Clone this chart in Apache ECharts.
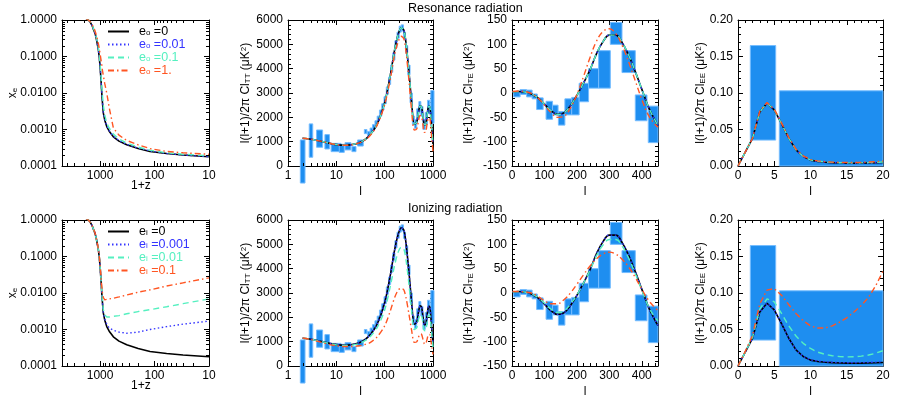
<!DOCTYPE html>
<html>
<head>
<meta charset="utf-8">
<script src="https://cdn.jsdelivr.net/npm/echarts@6/dist/echarts.min.js"></script>
<style>
  html, body { margin: 0; background: #fff; }
  #chart { width: 900px; height: 400px; }
</style>
</head>
<body>
<div id="chart"></div>
<script>
// ---- ionization fraction x_e against 1+z ----
const zGrid = [1800, 1640, 1500, 1400, 1300, 1235, 1150, 1073, 1030, 1000, 960, 931, 900, 870, 820, 754, 680, 570, 450, 324, 200, 121, 60, 30, 10];
const xeStd = [1.08, 1.0, 0.85, 0.7, 0.52, 0.43, 0.27, 0.15, 0.09, 0.053, 0.022, 0.01, 0.005, 0.0028, 0.0018, 0.0012, 0.0009, 0.00063, 0.00048, 0.00038, 0.0003, 0.00025, 0.00022, 0.0002, 0.00018];
const xeResBlue = [1.08, 1.0, 0.85, 0.7, 0.52, 0.43, 0.27, 0.15, 0.09, 0.054, 0.023, 0.0105, 0.0052, 0.0029, 0.0019, 0.00125, 0.00093, 0.00065, 0.0005, 0.00039, 0.00031, 0.00026, 0.00022, 0.0002, 0.00018];
const xeResCyan = [1.08, 1.0, 0.86, 0.72, 0.55, 0.46, 0.3, 0.17, 0.105, 0.065, 0.03, 0.015, 0.008, 0.0045, 0.0025, 0.0015, 0.0011, 0.00075, 0.00055, 0.00043, 0.00033, 0.00027, 0.00023, 0.00021, 0.00019];
const xeResRed = [1.08, 1.0, 0.88, 0.75, 0.6, 0.5, 0.35, 0.22, 0.16, 0.12, 0.08, 0.06, 0.04, 0.03, 0.018, 0.01, 0.004, 0.0011, 0.0007, 0.0005, 0.00038, 0.0003, 0.00025, 0.00023, 0.00021];
const xeIonBlue = [1.08, 1.0, 0.85, 0.7, 0.52, 0.43, 0.27, 0.15, 0.09, 0.053, 0.022, 0.01, 0.005, 0.0029, 0.0019, 0.0014, 0.0011, 0.00095, 0.00085, 0.00079, 0.00085, 0.001, 0.0012, 0.0014, 0.0017];
const xeIonCyan = [1.08, 1.0, 0.85, 0.7, 0.52, 0.43, 0.27, 0.15, 0.09, 0.054, 0.023, 0.011, 0.0055, 0.0035, 0.0025, 0.0022, 0.0022, 0.0023, 0.0024, 0.0027, 0.0031, 0.0035, 0.0042, 0.0051, 0.0069];
const xeIonRed = [1.08, 1.0, 0.85, 0.7, 0.53, 0.44, 0.28, 0.16, 0.095, 0.058, 0.026, 0.015, 0.0095, 0.0075, 0.0065, 0.0066, 0.0069, 0.0072, 0.0078, 0.0088, 0.0105, 0.0122, 0.0155, 0.019, 0.026];

// ---- TT spectrum ----
const ttL = [2, 3, 4, 5, 7, 10, 15, 20, 30, 40, 50, 70, 100, 130, 160, 190, 220, 250, 280, 320, 360, 410, 460, 500, 540, 580, 620, 660, 700, 750, 800, 850, 900, 950, 1000];
const ttStd = [1140, 1100, 1050, 1010, 940, 880, 850, 870, 960, 1100, 1280, 1720, 2600, 3700, 4750, 5400, 5680, 5580, 4950, 3800, 2650, 1720, 1800, 2200, 2470, 2420, 2050, 1700, 1700, 2050, 2420, 2450, 2050, 1450, 900];
const ttResRed = [1140, 1100, 1050, 1010, 940, 880, 850, 865, 950, 1080, 1250, 1680, 2520, 3550, 4550, 5100, 5330, 5220, 4600, 3450, 2300, 1480, 1520, 1850, 2080, 2030, 1680, 1380, 1380, 1700, 1970, 1980, 1600, 1050, 600];
const ttIonCyan = [1140, 1100, 1040, 1000, 930, 870, 840, 850, 930, 1050, 1200, 1580, 2300, 3250, 4120, 4680, 4880, 4800, 4280, 3300, 2300, 1500, 1570, 1900, 2120, 2080, 1760, 1460, 1450, 1750, 2080, 2100, 1760, 1250, 780];
const ttIonRed = [1150, 1090, 1020, 970, 890, 830, 800, 800, 830, 890, 960, 1200, 1650, 2250, 2800, 3120, 3200, 3120, 2750, 2100, 1480, 970, 990, 1180, 1320, 1300, 1100, 920, 900, 1080, 1280, 1300, 1080, 760, 480];
// data bins: [l low, l high, value low, value high]
const ttBins = [
  [1.8, 2.25, -700, 1070], [2.75, 3.25, 360, 1730], [3.9, 5.2, 770, 1480], [5.8, 7.2, 700, 1290],
  [7.8, 12.5, 590, 930], [11.5, 14.6, 560, 890], [15.1, 20, 660, 960], [21, 25.5, 590, 800],
  [27.5, 36, 820, 1070], [38, 43, 1330, 1500], [44, 50, 1250, 1420], [50, 56, 1380, 1560],
  [56, 63, 1500, 1700], [63, 70, 1680, 1860], [70, 78, 1850, 2050], [78, 87, 2050, 2300],
  [87, 97, 2300, 2560], [97, 108, 2560, 2850], [108, 120, 2950, 3250], [120, 133, 3350, 3650],
  [133, 147, 3850, 4150], [147, 163, 4350, 4650], [163, 180, 4850, 5150], [180, 200, 5250, 5500],
  [200, 220, 5500, 5750], [220, 245, 5550, 5800], [245, 270, 5250, 5500], [270, 300, 4650, 4950],
  [300, 335, 3750, 4150], [335, 375, 2600, 3000], [375, 415, 1700, 2050], [415, 460, 1550, 1900],
  [460, 510, 1950, 2350], [510, 560, 2250, 2650], [560, 620, 2050, 2450], [620, 690, 1500, 1900],
  [690, 770, 1700, 2200], [770, 860, 2150, 2700], [900, 1050, 1750, 3100]
];

// ---- TE spectrum ----
const teL = [2, 20, 40, 60, 80, 100, 120, 140, 160, 180, 200, 220, 240, 260, 280, 300, 320, 340, 360, 380, 400, 420, 440, 450];
const teStd = [2, 3, 2, -2, -10, -23, -36, -44, -41, -26, -5, 20, 47, 80, 105, 119, 119, 103, 77, 44, 8, -28, -55, -67];
const teResRed = [3, 4, 3, -1, -10, -25, -40, -50, -48, -31, -3, 33, 72, 106, 126, 132, 122, 97, 63, 25, -13, -45, -64, -70];
const teIonCyan = [2, 3, 2, -2, -9, -21, -33, -40, -37, -23, -4, 20, 46, 76, 98, 110, 110, 96, 71, 40, 6, -27, -50, -57];
const teIonRed = [3, 3, 2, 0, -7, -16, -22, -22, -14, 0, 18, 37, 55, 70, 80, 84, 80, 69, 53, 32, 8, -14, -30, -36];
const teBins = [
  [5, 25, -8, 2], [25, 45, -3, 7], [45, 62, -8, 6], [62, 78, -12, -2], [76, 96, -34, -10],
  [105, 125, -54, -17], [125, 142, -45, -25], [143, 163, -66, -38], [163, 184, -45, -12],
  [184, 207, -45, -9], [207, 236, -18, 20], [236, 267, 10, 50], [267, 303, 10, 87],
  [303, 339, 100, 145], [339, 380, 42, 87], [380, 416, -57, -4], [420, 450, -102, -27]
];

// ---- EE spectrum ----
const eeL = [0, 1, 2, 3, 4, 5, 6, 7, 8, 9, 10, 11, 12, 13, 14, 15, 16, 17, 18, 19, 20];
const eeStd = [0, 0.019, 0.038, 0.074, 0.086, 0.077, 0.058, 0.038, 0.022, 0.013, 0.008, 0.0062, 0.0052, 0.0046, 0.0042, 0.0039, 0.0038, 0.0039, 0.0041, 0.0044, 0.0048];
const eeResCyan = [0, 0.019, 0.038, 0.074, 0.086, 0.077, 0.058, 0.038, 0.022, 0.013, 0.0083, 0.0065, 0.0055, 0.0049, 0.0045, 0.0043, 0.0042, 0.0043, 0.0046, 0.005, 0.0055];
const eeResRed = [0, 0.019, 0.038, 0.075, 0.087, 0.078, 0.059, 0.039, 0.023, 0.014, 0.0088, 0.007, 0.006, 0.0053, 0.005, 0.0048, 0.0048, 0.005, 0.0054, 0.006, 0.0068];
const eeIonBlue = [0, 0.019, 0.038, 0.074, 0.086, 0.077, 0.058, 0.038, 0.022, 0.013, 0.0085, 0.0066, 0.0057, 0.0051, 0.0047, 0.0045, 0.0045, 0.0046, 0.0049, 0.0053, 0.0058];
const eeIonCyan = [0, 0.019, 0.039, 0.078, 0.092, 0.088, 0.072, 0.055, 0.041, 0.031, 0.024, 0.019, 0.016, 0.014, 0.013, 0.0125, 0.0127, 0.0135, 0.015, 0.0175, 0.021];
const eeIonRed = [0, 0.02, 0.042, 0.085, 0.104, 0.106, 0.097, 0.084, 0.072, 0.062, 0.055, 0.052, 0.052, 0.055, 0.06, 0.066, 0.074, 0.083, 0.094, 0.11, 0.13];
const eeBins = [[1.7, 5.2, 0.0355, 0.165], [5.7, 20, 0, 0.103]];

// ---- log axis ticks ----
const zMajor = [10, 100, 1000];
const xeMajor = [0.0001, 0.001, 0.01, 0.1, 1];
const ttLMajor = [1, 10, 100, 1000];
const minorOf = (lo, hi, cap) => {
  const out = [];
  for (let e = lo; e < hi; e++) for (let m = 2; m <= 9; m++) out.push(+(m * Math.pow(10, e)).toPrecision(3));
  return out.filter(v => v < cap);
};

// ---- legend names ----
const resNames = ['eo0', 'eo001', 'eo01', 'eo1'];
const ionNames = ['ei0', 'ei0001', 'ei001', 'ei01'];
const legendText = {
  eo0: '{e|e}{s|o} =0', eo001: '{e|e}{s|o} =0.01', eo01: '{e|e}{s|o} =0.1', eo1: '{e|e}{s|o} =1.',
  ei0: '{e|e}{s|i} =0', ei0001: '{e|e}{s|i} =0.001', ei001: '{e|e}{s|i} =0.01', ei01: '{e|e}{s|i} =0.1'
};

const FONT = 'Liberation Sans, Arial, sans-serif';
const COLORS = ['#000000', '#3434ff', '#55f0c0', '#ff5522'];
const DASH = ['solid', [1.5, 2.5], [6, 4], [6, 3, 1.5, 3]];
const WIDTH = [1.6, 1.4, 1.4, 1.4];
const BOX = '#1e8ef0', BOX_EDGE = '#74bcff';

const lefts = [62, 288, 512, 738];
const widths = [147, 145, 146, 145];
const tops = [20, 220];
const H = 146;

const kinds = {
  xe: {
    x: { type: 'log', min: 10, max: 5000, inverse: true, major: zMajor, minorLog: minorOf(1, 4, 5000), anchor: 0.01, fmt: v => String(Math.round(v)) },
    y: { type: 'log', min: 0.0001, max: 1, major: xeMajor, minorLog: minorOf(-4, 0, 1), anchor: 100, fmt: v => v.toFixed(4), name: '{i|x}{s|e}', nameGap: 43 }
  },
  tt: {
    x: { type: 'log', min: 1, max: 1000, major: ttLMajor, minorLog: minorOf(0, 3, 1000), anchor: 3000, fmt: v => String(Math.round(v)), name: 'l', nameGap: 20 },
    y: { type: 'value', min: 0, max: 6000, interval: 1000, minor: 5, name: 'l(l+1)/2π Cl{s|TT} (μK{p|2})', nameGap: 36 }
  },
  te: {
    x: { type: 'value', min: 0, max: 450, interval: 100, minor: 5, name: 'l', nameGap: 20 },
    y: { type: 'value', min: -150, max: 150, interval: 50, minor: 5, name: 'l(l+1)/2π Cl{s|TE} (μK{p|2})', nameGap: 37 }
  },
  ee: {
    x: { type: 'value', min: 0, max: 20, interval: 5, minor: 5, name: 'l', nameGap: 20 },
    y: { type: 'value', min: 0, max: 0.2, interval: 0.05, minor: 5, fmt: v => v.toFixed(2), name: 'l(l+1)/2π Cl{s|EE} (μK{p|2})', nameGap: 31 }
  }
};

const panels = [
  { row: 0, col: 0, kind: 'xe', xs: zGrid, lines: [xeStd, xeResBlue, xeResCyan, xeResRed], names: resNames, smooth: false },
  { row: 0, col: 1, kind: 'tt', xs: ttL, lines: [ttStd, ttStd, ttStd, ttResRed], names: resNames, bins: ttBins, smooth: 0.3 },
  { row: 0, col: 2, kind: 'te', xs: teL, lines: [teStd, teStd, teStd, teResRed], names: resNames, bins: teBins, smooth: 0.4 },
  { row: 0, col: 3, kind: 'ee', xs: eeL, lines: [eeStd, eeStd, eeResCyan, eeResRed], names: resNames, bins: eeBins, smooth: false },
  { row: 1, col: 0, kind: 'xe', xs: zGrid, lines: [xeStd, xeIonBlue, xeIonCyan, xeIonRed], names: ionNames, smooth: false },
  { row: 1, col: 1, kind: 'tt', xs: ttL, lines: [ttStd, ttStd, ttIonCyan, ttIonRed], names: ionNames, bins: ttBins, smooth: 0.3 },
  { row: 1, col: 2, kind: 'te', xs: teL, lines: [teStd, teStd, teIonCyan, teIonRed], names: ionNames, bins: teBins, smooth: 0.4 },
  { row: 1, col: 3, kind: 'ee', xs: eeL, lines: [eeStd, eeIonBlue, eeIonCyan, eeIonRed], names: ionNames, bins: eeBins, smooth: false }
];

const nameRich = {
  i: { fontSize: 12, fontFamily: FONT },
  s: { fontSize: 8, fontFamily: FONT, verticalAlign: 'bottom', lineHeight: 8 },
  p: { fontSize: 8, fontFamily: FONT, verticalAlign: 'top', lineHeight: 8 }
};

function makeAxis(spec, gridIndex, position, mirror, isY) {
  const ax = {
    type: spec.type, gridIndex, position,
    min: spec.min, max: spec.max,
    axisLine: { show: true, onZero: false, lineStyle: { color: '#000', width: 1 } },
    axisTick: { show: true, inside: true, length: 5, lineStyle: { color: '#000', width: 1 } },
    minorTick: { show: !!spec.minor, splitNumber: spec.minor || 5, length: 3, lineStyle: { color: '#000', width: 1 } },
    splitLine: { show: false },
    axisLabel: mirror ? { show: false } : {
      show: true, color: '#000', fontSize: 12, fontFamily: FONT, margin: isY ? 5 : 4,
      hideOverlap: false,
      formatter: spec.fmt || (v => String(v))
    }
  };
  if (spec.type === 'log') {
    ax.logBase = 10;
    ax.axisTick.customValues = spec.major;
    if (!mirror) ax.axisLabel.customValues = spec.major;
  }
  if (spec.interval) ax.interval = spec.interval;
  if (spec.inverse) ax.inverse = true;
  if (!mirror && spec.name) {
    ax.name = spec.name;
    ax.nameLocation = 'middle';
    ax.nameGap = spec.nameGap;
    ax.nameMoveOverlap = false;
    if (isY) ax.nameRotate = 90;
    ax.nameTextStyle = { color: '#000', fontSize: 12, fontFamily: FONT, rich: nameRich };
  }
  return ax;
}

// short minor ticks for log axes, drawn on both sides of the box
function minorTickSeries(xi, yi, spec, isY) {
  return {
    type: 'custom', xAxisIndex: xi, yAxisIndex: yi, silent: true, clip: false, z: 5,
    data: spec.minorLog.map(v => isY ? [spec.anchor, v] : [v, spec.anchor]),
    encode: { x: 0, y: 1 },
    renderItem: (params, api) => {
      const cs = params.coordSys;
      const p = api.coord([api.value(0), api.value(1)]);
      const st = { stroke: '#000', lineWidth: 1 };
      if (isY) {
        const y = Math.round(p[1]) + 0.5;
        return { type: 'group', children: [
          { type: 'line', shape: { x1: cs.x, y1: y, x2: cs.x + 3, y2: y }, style: st },
          { type: 'line', shape: { x1: cs.x + cs.width, y1: y, x2: cs.x + cs.width - 3, y2: y }, style: st }
        ] };
      }
      const x = Math.round(p[0]) + 0.5;
      return { type: 'group', children: [
        { type: 'line', shape: { x1: x, y1: cs.y + cs.height, x2: x, y2: cs.y + cs.height - 3 }, style: st },
        { type: 'line', shape: { x1: x, y1: cs.y, x2: x, y2: cs.y + 3 }, style: st }
      ] };
    }
  };
}

const grid = [], xAxis = [], yAxis = [], series = [];

panels.forEach((p, gi) => {
  grid.push({ left: lefts[p.col], top: tops[p.row], width: widths[p.col], height: H });
  const k = kinds[p.kind];
  const xi = xAxis.length, yi = yAxis.length;
  xAxis.push(makeAxis(k.x, gi, 'bottom', false, false), makeAxis(k.x, gi, 'top', true, false));
  yAxis.push(makeAxis(k.y, gi, 'left', false, true), makeAxis(k.y, gi, 'right', true, true));

  if (p.bins) {
    series.push({
      type: 'custom',
      xAxisIndex: xi, yAxisIndex: yi,
      silent: true, clip: false,
      encode: { x: [0, 1], y: [2, 3] },
      data: p.bins,
      renderItem: (params, api) => {
        const a = api.coord([api.value(0), api.value(2)]);
        const b = api.coord([api.value(1), api.value(3)]);
        return {
          type: 'rect',
          shape: { x: Math.min(a[0], b[0]), y: Math.min(a[1], b[1]), width: Math.abs(b[0] - a[0]), height: Math.abs(b[1] - a[1]) },
          style: { fill: BOX, stroke: BOX_EDGE, lineWidth: 1 }
        };
      }
    });
  }

  p.lines.forEach((vals, i) => {
    series.push({
      type: 'line',
      name: p.names[i],
      xAxisIndex: xi, yAxisIndex: yi,
      data: p.xs.map((x, j) => [x, vals[j]]),
      showSymbol: false, symbol: 'none',
      smooth: p.smooth,
      silent: true,
      color: COLORS[i],
      lineStyle: { color: COLORS[i], width: WIDTH[i], type: DASH[i] }
    });
  });

  if (k.x.minorLog) series.push(minorTickSeries(xi, yi, k.x, false));
  if (k.y.minorLog) series.push(minorTickSeries(xi, yi, k.y, true));
});

function makeLegend(names, top) {
  return {
    orient: 'vertical', left: 107, top, padding: 0,
    itemWidth: 21, itemHeight: 10, itemGap: 0,
    selectedMode: false,
    itemStyle: { opacity: 0 },
    formatter: n => legendText[n],
    data: names.map((n, i) => ({
      name: n,
      textStyle: { color: COLORS[i] }
    })),
    textStyle: {
      fontSize: 12.5, fontFamily: FONT, lineHeight: 10, padding: [0, 0, 0, 5],
      rich: {
        e: { fontSize: 12.5, fontFamily: FONT, lineHeight: 10 },
        s: { fontSize: 8, fontFamily: FONT, verticalAlign: 'bottom', lineHeight: 7 }
      }
    }
  };
}

// "1+z" under the x_e panels
const zLabel = top => ({
  type: 'text', left: 131, top,
  style: { text: '1+z', fill: '#000', font: '12px ' + FONT }
});

const option = {
  animation: false,
  backgroundColor: '#fff',
  title: [
    { text: 'Resonance radiation', left: 408, top: 2, padding: 0, textStyle: { fontSize: 12.5, fontWeight: 'normal', fontFamily: FONT, color: '#000' } },
    { text: 'Ionizing radiation', left: 408, top: 202, padding: 0, textStyle: { fontSize: 12.5, fontWeight: 'normal', fontFamily: FONT, color: '#000' } }
  ],
  legend: [makeLegend(resNames, 25), makeLegend(ionNames, 225)],
  graphic: [zLabel(180), zLabel(380)],
  grid, xAxis, yAxis, series
};

const chart = echarts.init(document.getElementById('chart'), null, { renderer: 'canvas', devicePixelRatio: 1 });
chart.setOption(option);
</script>
</body>
</html>
